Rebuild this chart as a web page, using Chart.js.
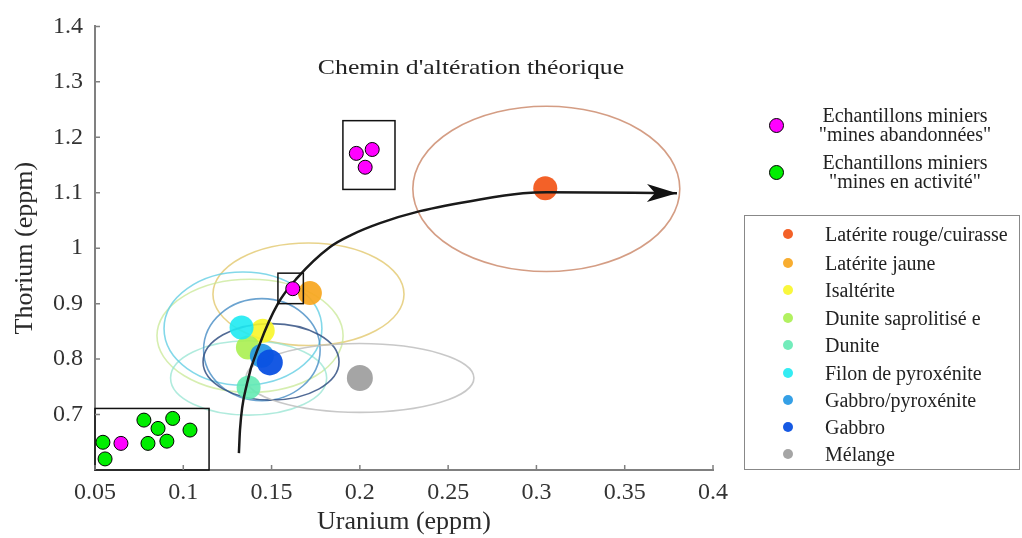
<!DOCTYPE html>
<html lang="fr">
<head>
    <meta charset="UTF-8">
    <title>Chemin d'altération théorique</title>
    <script src="https://cdn.jsdelivr.net/npm/chart.js@4.4.1/dist/chart.umd.min.js"></script>
    <style>
        body {
            margin: 0;
            background: #fff;
            overflow: hidden;
            font-family: 'Liberation Serif', 'Times New Roman', serif;
            color: #222;
        }
        #wrap {
            position: relative;
            width: 1022px;
            height: 538px;
        }
        #chart {
            position: absolute;
            left: 0;
            top: 0;
        }
        .title {
            position: absolute;
            left: 471px;
            top: 67px;
            font-size: 22px;
            white-space: nowrap;
            transform: translate(-50%, -50%) scaleX(1.17);
        }
        .sample {
            position: absolute;
            left: 760px;
            width: 262px;
        }
        .sample .dot {
            position: absolute;
            left: 9px;
            width: 13px;
            height: 13px;
            border: 1px solid #000;
            border-radius: 50%;
        }
        .sample .txt {
            position: absolute;
            left: 40px;
            width: 210px;
            text-align: center;
            font-size: 20px;
            line-height: 19px;
        }
        #litho {
            position: absolute;
            left: 744px;
            top: 215px;
            width: 276px;
            height: 255px;
            border: 1.5px solid #888;
            box-sizing: border-box;
        }
        .row {
            position: absolute;
            left: 0;
            height: 20px;
            font-size: 20px;
            line-height: 20px;
            white-space: nowrap;
        }
        .row .dot {
            position: absolute;
            left: 38px;
            top: 5px;
            width: 10px;
            height: 10px;
            border-radius: 50%;
        }
        .row .txt {
            position: absolute;
            left: 80px;
        }
    </style>
</head>
<body>
<div id="wrap">
    <canvas id="chart" width="1022" height="538"></canvas>
    <div class="title">Chemin d'altération théorique</div>
    <div id="sampleLegend"></div>
    <div id="litho"></div>
</div>

<script>
    // axes
    const xTicks = [0.05, 0.1, 0.15, 0.2, 0.25, 0.3, 0.35, 0.4];
    const yTicks = [0.7, 0.8, 0.9, 1, 1.1, 1.2, 1.3, 1.4];

    // échantillons miniers
    const abandX = [0.0647, 0.162, 0.198, 0.207, 0.203];
    const abandY = [0.648, 0.927, 1.171, 1.178, 1.146];
    const activeX = [0.0545, 0.0557, 0.0777, 0.0857, 0.080, 0.0907, 0.094, 0.1038];
    const activeY = [0.650, 0.620, 0.690, 0.675, 0.648, 0.652, 0.693, 0.672];

    // lithologies : moyennes
    const lithoNames = ['Latérite rouge/cuirasse', 'Latérite jaune', 'Isaltérite', 'Dunite saprolitisé e',
        'Dunite', 'Filon de pyroxénite', 'Gabbro/pyroxénite', 'Gabbro', 'Mélange'];
    const lithoX = [0.305, 0.1717, 0.145, 0.1366, 0.137, 0.133, 0.1445, 0.149, 0.200];
    const lithoY = [1.108, 0.919, 0.851, 0.821, 0.749, 0.857, 0.806, 0.794, 0.766];

    // ellipses de dispersion (centre, demi-axes), null = pas d'ellipse
    const ellX  = [0.3056, 0.1709, null, 0.1378, 0.137, 0.1338, 0.1445, 0.1497, 0.200];
    const ellY  = [1.107, 0.917, null, 0.842, 0.766, 0.855, 0.817, 0.795, 0.766];
    const ellRx = [0.0756, 0.0541, null, 0.0527, 0.0442, 0.0447, 0.033, 0.0385, 0.0646];
    const ellRy = [0.149, 0.0925, null, 0.102, 0.067, 0.102, 0.092, 0.069, 0.062];

    // chemin d'altération
    const pathX = [0.1315, 0.1321, 0.1361, 0.1434, 0.1536, 0.1644, 0.1831, 0.195, 0.2114, 0.234, 0.268, 0.2924, 0.306, 0.3796];
    const pathY = [0.6305, 0.672, 0.756, 0.828, 0.900, 0.946, 1.0022, 1.0237, 1.0452, 1.0668, 1.088, 1.099, 1.101, 1.099];

    // cadres autour des groupes : [xmin, xmax, ymin, ymax]
    const boxX0 = [0.05, 0.1536, 0.1904];
    const boxX1 = [0.1146, 0.168, 0.2199];
    const boxY0 = [0.6, 0.900, 1.106];
    const boxY1 = [0.711, 0.955, 1.230];

    const lithoColors = ['rgba(242,88,28,0.95)', 'rgba(247,166,30,0.92)', 'rgba(248,246,40,0.9)',
        'rgba(170,240,80,0.9)', 'rgba(100,234,180,0.9)', 'rgba(30,234,242,0.9)',
        'rgba(36,152,228,0.92)', 'rgba(10,80,226,0.95)', 'rgba(160,160,160,0.95)'];
    const ellColors = ['rgba(205,140,110,0.85)', 'rgba(226,200,110,0.8)', null, 'rgba(200,232,150,0.75)',
        'rgba(150,228,210,0.75)', 'rgba(100,206,228,0.8)', 'rgba(70,140,196,0.8)',
        'rgba(50,80,130,0.85)', 'rgba(190,190,190,0.85)'];
    const serif = "'Liberation Serif', 'Times New Roman', serif";

    const ellipsePlugin = {
        id: 'ellipses',
        beforeDatasetsDraw(chart) {
            const ctx = chart.ctx, xs = chart.scales.x, ys = chart.scales.y;
            ctx.save();
            ctx.lineWidth = 1.6;
            ellX.forEach((cx, i) => {
                if (cx === null) return;
                const px = xs.getPixelForValue(cx), py = ys.getPixelForValue(ellY[i]);
                const rx = Math.abs(xs.getPixelForValue(cx + ellRx[i]) - px);
                const ry = Math.abs(ys.getPixelForValue(ellY[i] + ellRy[i]) - py);
                ctx.strokeStyle = ellColors[i];
                ctx.beginPath();
                ctx.ellipse(px, py, rx, ry, 0, 0, Math.PI * 2);
                ctx.stroke();
            });
            ctx.restore();
        },
        afterDatasetsDraw(chart) {
            const ctx = chart.ctx, xs = chart.scales.x, ys = chart.scales.y;
            ctx.save();
            // cadres
            ctx.strokeStyle = '#111';
            ctx.lineWidth = 1.5;
            boxX0.forEach((x0, i) => {
                const l = xs.getPixelForValue(x0), r = xs.getPixelForValue(boxX1[i]);
                const t = ys.getPixelForValue(boxY1[i]), b = ys.getPixelForValue(boxY0[i]);
                ctx.strokeRect(l, t, r - l, b - t);
            });
            // pointe de flèche
            const n = pathX.length;
            const tx = xs.getPixelForValue(pathX[n - 1]), ty = ys.getPixelForValue(pathY[n - 1]);
            const fx = xs.getPixelForValue(pathX[n - 2]), fy = ys.getPixelForValue(pathY[n - 2]);
            const a = Math.atan2(ty - fy, tx - fx);
            ctx.translate(tx, ty);
            ctx.rotate(a);
            ctx.fillStyle = '#111';
            ctx.beginPath();
            ctx.moveTo(0, 0);
            ctx.lineTo(-30, -9);
            ctx.lineTo(-22, 0);
            ctx.lineTo(-30, 9);
            ctx.closePath();
            ctx.fill();
            ctx.restore();
        },
        afterDraw(chart) {
            // petites graduations vers l'intérieur
            const ctx = chart.ctx, xs = chart.scales.x, ys = chart.scales.y;
            const area = chart.chartArea;
            ctx.save();
            ctx.strokeStyle = '#808080';
            ctx.lineWidth = 1.5;
            ctx.beginPath();
            xTicks.forEach(v => {
                const p = xs.getPixelForValue(v);
                ctx.moveTo(p, area.bottom);
                ctx.lineTo(p, area.bottom - 5);
            });
            yTicks.forEach(v => {
                const p = ys.getPixelForValue(v);
                ctx.moveTo(area.left, p);
                ctx.lineTo(area.left + 5, p);
            });
            ctx.stroke();
            ctx.restore();
        }
    };

    new Chart(document.getElementById('chart'), {
        type: 'scatter',
        data: {
            datasets: [
                {
                    label: 'Echantillons miniers "mines abandonnées"',
                    data: abandX.map((x, i) => ({x, y: abandY[i]})),
                    backgroundColor: '#ff00ff',
                    borderColor: '#000',
                    borderWidth: 1,
                    pointRadius: 7,
                    order: 0
                },
                {
                    label: 'Echantillons miniers "mines en activité"',
                    data: activeX.map((x, i) => ({x, y: activeY[i]})),
                    backgroundColor: '#00ee00',
                    borderColor: '#000',
                    borderWidth: 1,
                    pointRadius: 7,
                    order: 0
                },
                {
                    label: "Chemin d'altération théorique",
                    data: pathX.map((x, i) => ({x, y: pathY[i]})),
                    showLine: true,
                    borderColor: '#1a1a1a',
                    borderWidth: 2.5,
                    pointRadius: 0,
                    cubicInterpolationMode: 'monotone',
                    order: 1
                },
                {
                    label: 'Lithologies',
                    data: lithoX.map((x, i) => ({x, y: lithoY[i]})),
                    backgroundColor: lithoColors,
                    borderWidth: 0,
                    pointRadius: [12, 12, 12, 12, 12, 12, 12, 13, 13],
                    order: 2
                }
            ]
        },
        options: {
            responsive: false,
            animation: false,
            layout: { padding: { top: 23, right: 309, left: 0, bottom: 0 } },
            plugins: {
                legend: { display: false },
                tooltip: { enabled: false }
            },
            scales: {
                x: {
                    type: 'linear',
                    min: 0.05,
                    max: 0.4,
                    afterBuildTicks: axis => { axis.ticks = xTicks.map(v => ({ value: v })); },
                    afterFit: axis => { axis.height = 68; },
                    grid: { display: false, drawTicks: false },
                    border: { display: true, color: '#808080', width: 2 },
                    ticks: {
                        autoSkip: false,
                        maxRotation: 0,
                        padding: 8,
                        color: '#333',
                        font: { family: serif, size: 24 },
                        callback: v => String(v)
                    },
                    title: {
                        display: true,
                        text: 'Uranium (eppm)',
                        color: '#2a2a2a',
                        font: { family: serif, size: 26 },
                        padding: { top: 0, bottom: 0 }
                    }
                },
                y: {
                    type: 'linear',
                    min: 0.6,
                    max: 1.4,
                    afterBuildTicks: axis => { axis.ticks = yTicks.map(v => ({ value: v })); },
                    afterFit: axis => { axis.width = 95; },
                    grid: { display: false, drawTicks: false },
                    border: { display: true, color: '#808080', width: 2 },
                    ticks: {
                        autoSkip: false,
                        padding: 12,
                        color: '#333',
                        font: { family: serif, size: 24 },
                        callback: v => String(v)
                    },
                    title: {
                        display: true,
                        text: 'Thorium (eppm)',
                        color: '#2a2a2a',
                        font: { family: serif, size: 26 },
                        padding: { top: 10, bottom: 0 }
                    }
                }
            }
        },
        plugins: [ellipsePlugin]
    });

    // légende des échantillons
    const sampleLegend = document.getElementById('sampleLegend');
    [
        { color: '#ff00ff', top: 106, lines: ['Echantillons miniers', '"mines abandonnées"'] },
        { color: '#00ee00', top: 153, lines: ['Echantillons miniers', '"mines en activité"'] }
    ].forEach(s => {
        const d = document.createElement('div');
        d.className = 'sample';
        d.style.top = s.top + 'px';
        d.innerHTML = `<span class="dot" style="top:${12}px;background:${s.color}"></span>
            <div class="txt">${s.lines.join('<br>')}</div>`;
        sampleLegend.appendChild(d);
    });

    // légende des lithologies
    const litho = document.getElementById('litho');
    const rowY = [233, 262, 289, 317, 344, 372, 399, 426, 453];
    lithoNames.forEach((name, i) => {
        const r = document.createElement('div');
        r.className = 'row';
        r.style.top = (rowY[i] - 215 - 10) + 'px';
        r.innerHTML = `<span class="dot" style="background:${lithoColors[i]}"></span><span class="txt">${name}</span>`;
        litho.appendChild(r);
    });
</script>
</body>
</html>
